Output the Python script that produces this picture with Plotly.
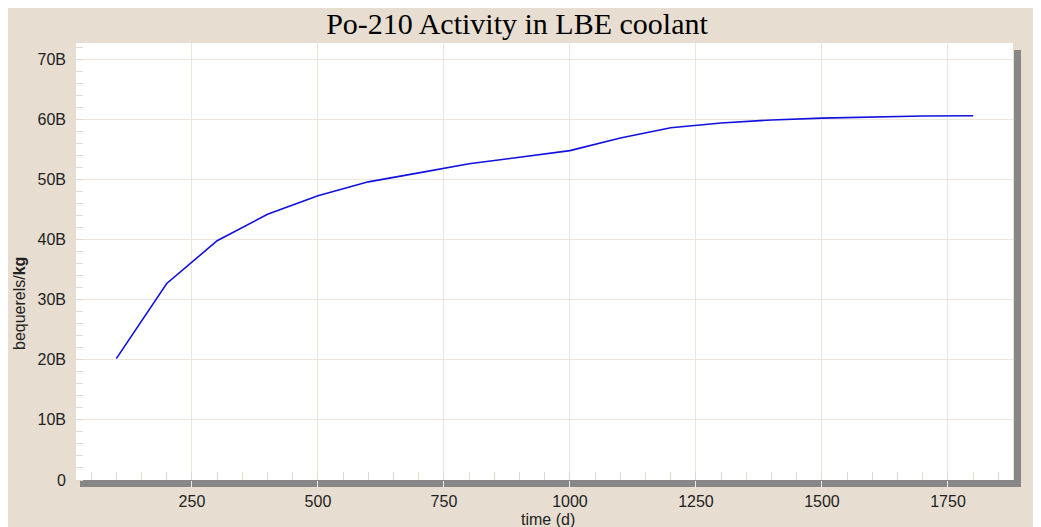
import plotly.graph_objects as go

# data (time in days, activity in billions of Bq/kg)
time_d = [100, 200, 300, 400, 500, 600, 700, 800, 900, 1000,
          1100, 1200, 1300, 1400, 1500, 1600, 1700, 1800]
activity_B = [20.2, 32.7, 39.8, 44.2, 47.3, 49.6, 51.1, 52.6, 53.7, 54.8,
              56.9, 58.6, 59.4, 59.9, 60.2, 60.4, 60.55, 60.6]

x_tickvals = [250, 500, 750, 1000, 1250, 1500, 1750]
y_tickvals = [0, 10, 20, 30, 40, 50, 60, 70]
y_ticktext = ["0", "10B", "20B", "30B", "40B", "50B", "60B", "70B"]

BG = "#E7DED1"
GRID = "#EEE6DB"
SHADOW = "#878787"
TXT = "#222222"

fig = go.Figure()
fig.add_trace(go.Scatter(x=time_d, y=activity_B, mode="lines",
                         line=dict(color="#1010E0", width=1.6),
                         showlegend=False))

OFF = 8  # page body margin
W, H = 1041 - OFF, 527 - OFF
L, T = 76 - OFF, 43 - OFF
R = W - (1013 - OFF)
B = H - (480 - OFF)
pw, ph = W - L - R, H - T - B

def px_x(p):  # reference screen pixel -> paper coord
    return (p - OFF - L) / pw

def px_y(p):
    return (H - B - (p - OFF)) / ph

fig.update_layout(
    width=W, height=H,
    margin=dict(l=L, r=R, t=T, b=B, autoexpand=False),
    paper_bgcolor=BG, plot_bgcolor="white",
    title=dict(text="Po-210 Activity in LBE coolant",
               font=dict(family="Liberation Serif", size=30, color="black"),
               x=(517 - OFF) / W, xanchor="center", y=1 - (23 - OFF) / H, yanchor="middle",
               xref="container", yref="container"),
    font=dict(family="Liberation Sans", color=TXT),
    shapes=[
        # drop shadow of the plot area
        dict(type="rect", xref="paper", yref="paper", layer="below",
             x0=px_x(80), x1=px_x(1021), y0=px_y(487), y1=px_y(480),
             fillcolor=SHADOW, line=dict(width=0)),
        dict(type="rect", xref="paper", yref="paper", layer="below",
             x0=px_x(1014), x1=px_x(1021), y0=px_y(487), y1=px_y(50),
             fillcolor=SHADOW, line=dict(width=0)),
    ],
    annotations=[
        dict(text="time (d)", xref="paper", yref="paper",
             x=px_x(548), y=px_y(519), xanchor="center", yanchor="middle",
             showarrow=False, font=dict(size=16, family="Liberation Sans", color=TXT)),
        dict(text="bequerels/<b>kg</b>", xref="paper", yref="paper",
             x=px_x(19), y=px_y(304), xanchor="center", yanchor="middle",
             textangle=-90, showarrow=False,
             font=dict(size=16, family="Liberation Sans", color=TXT)),
    ],
)

fig.update_xaxes(
    range=[20, 1879], tickvals=x_tickvals, automargin=False,
    showgrid=True, gridcolor=GRID, gridwidth=1, zeroline=False,
    ticks="outside", ticklen=7, tickcolor="#EFE9E0", tickwidth=1,
    tickfont=dict(size=16, family="Liberation Sans", color=TXT),
    minor=dict(ticks="inside", ticklen=8, dtick=50, tick0=0,
               tickcolor="#E2DACE", showgrid=False),
    showline=False,
)
fig.update_yaxes(
    range=[0, 72.7], tickvals=y_tickvals, ticktext=y_ticktext, automargin=False,
    showgrid=True, gridcolor=GRID, gridwidth=1, zeroline=False,
    ticks="", ticklabelstandoff=9,
    tickfont=dict(size=16, family="Liberation Sans", color=TXT),
    minor=dict(ticks="inside", ticklen=7, dtick=2, tick0=0,
               tickcolor="#E2DACE", showgrid=False),
    showline=False,
)

fig.write_html("out.html")
